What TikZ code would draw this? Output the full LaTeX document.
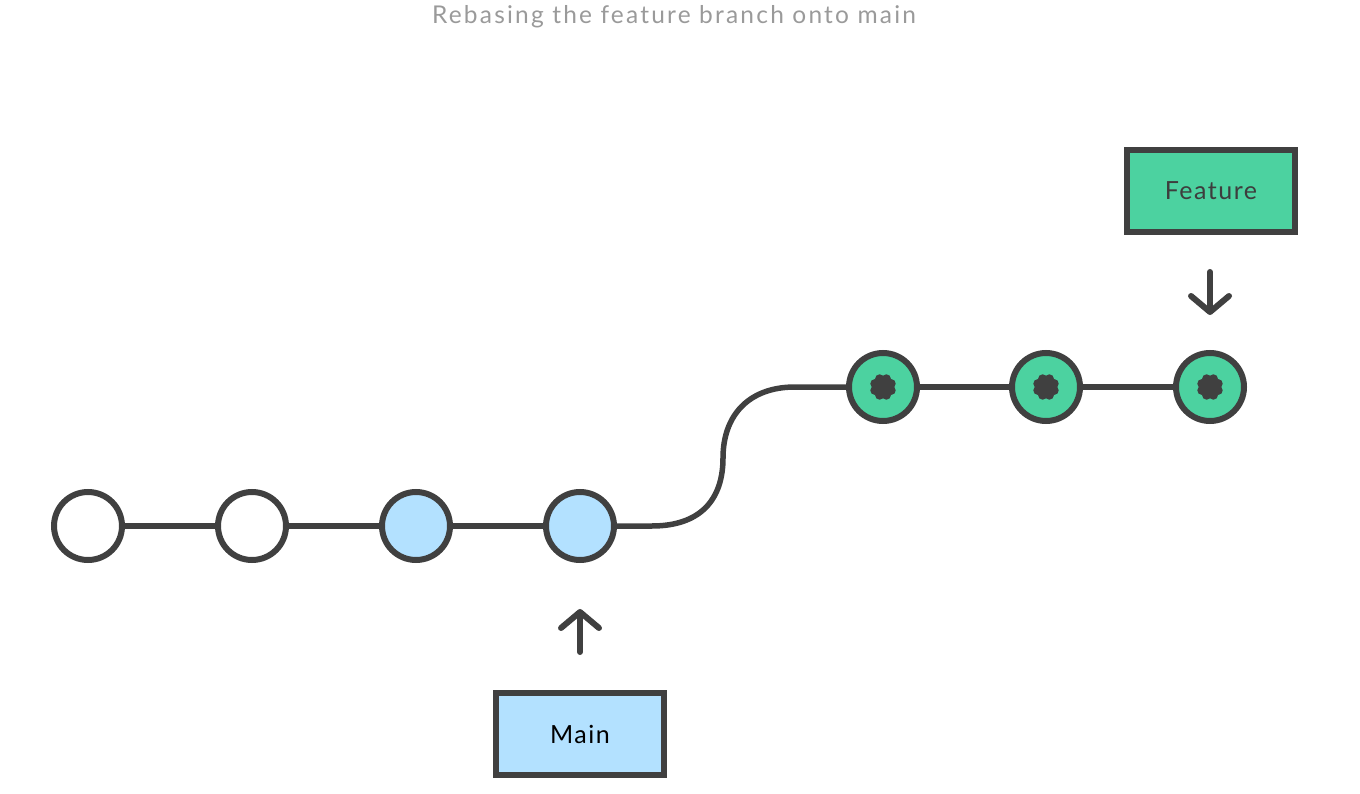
\documentclass[tikz,border=0pt]{standalone}
\usepackage{fontspec}
\setmainfont{Lato}
\newfontfamily\titlefont[LetterSpace=9]{Lato}
\newfontfamily\boxfont[LetterSpace=6]{Lato}
\usetikzlibrary{arrows.meta}
\definecolor{ink}{HTML}{404040}
\definecolor{blueC}{HTML}{B3E1FF}
\definecolor{greenC}{HTML}{4CD2A0}
\definecolor{titlegray}{HTML}{9A9A9A}
\tikzset{
  commit/.style={circle, draw=ink, line width=6pt, minimum size=68pt, inner sep=0pt},
  oldc/.style={commit, fill=white},
  mainc/.style={commit, fill=blueC},
  featc/.style={commit, fill=greenC},
  link/.style={draw=ink, line width=5.5pt},
  label box/.style={draw=ink, line width=6pt, minimum width=168pt, minimum height=82pt, inner sep=0pt, font=\boxfont\fontsize{25}{28}\selectfont},
  pointer/.style={draw=ink, line width=6pt, line cap=round, -{Straight Barb[length=16pt,width=38pt,line cap=round,line join=round]}},
}
\newcommand{\flower}[1]{%
  \foreach \a in {22.5,67.5,...,337.5} {\fill[ink] (#1) ++(\a:8.8pt) circle (4.6pt);}
  \fill[ink] (#1) circle (6.5pt);
}
\begin{document}
\begin{tikzpicture}[x=1pt,y=-1pt]
\useasboundingbox (0,0) rectangle (1360,794);
\node[font=\titlefont\fontsize{24.5}{26}\selectfont, text=titlegray] (title) at (674,17) {Rebasing the feature branch onto main};

\node[oldc] (c1) at (88,526) {};
\node[oldc] (c2) at (252,526) {};
\node[mainc] (c3) at (416,526) {};
\node[mainc] (c4) at (580,526) {};
\node[featc] (c5) at (883,387) {};
\node[featc] (c6) at (1046,387) {};
\node[featc] (c7) at (1210,387) {};

\draw[link] (c1) -- (c2);
\draw[link] (c2) -- (c3);
\draw[link] (c3) -- (c4);
\draw[link] (c4.east) -- (652,526) .. controls (700,526) and (723,500) .. (723,458)
   .. controls (723,416) and (748,387) .. (795,387) -- (c5.west);
\draw[link] (c5) -- (c6);
\draw[link] (c6) -- (c7);

\flower{c5}
\flower{c6}
\flower{c7}

\node[label box, fill=greenC, text=ink!95!black] (feature) at (1211,191) {Feature};
\node[label box, fill=blueC, text=black] (main) at (580,734) {Main};

\coordinate (fa) at (1210,272);
\coordinate (fb) at (1210,315);
\draw[pointer] (fa) -- (fb);
\coordinate (ma) at (580,652);
\coordinate (mb) at (580,609);
\draw[pointer] (ma) -- (mb);
\end{tikzpicture}
\end{document}
